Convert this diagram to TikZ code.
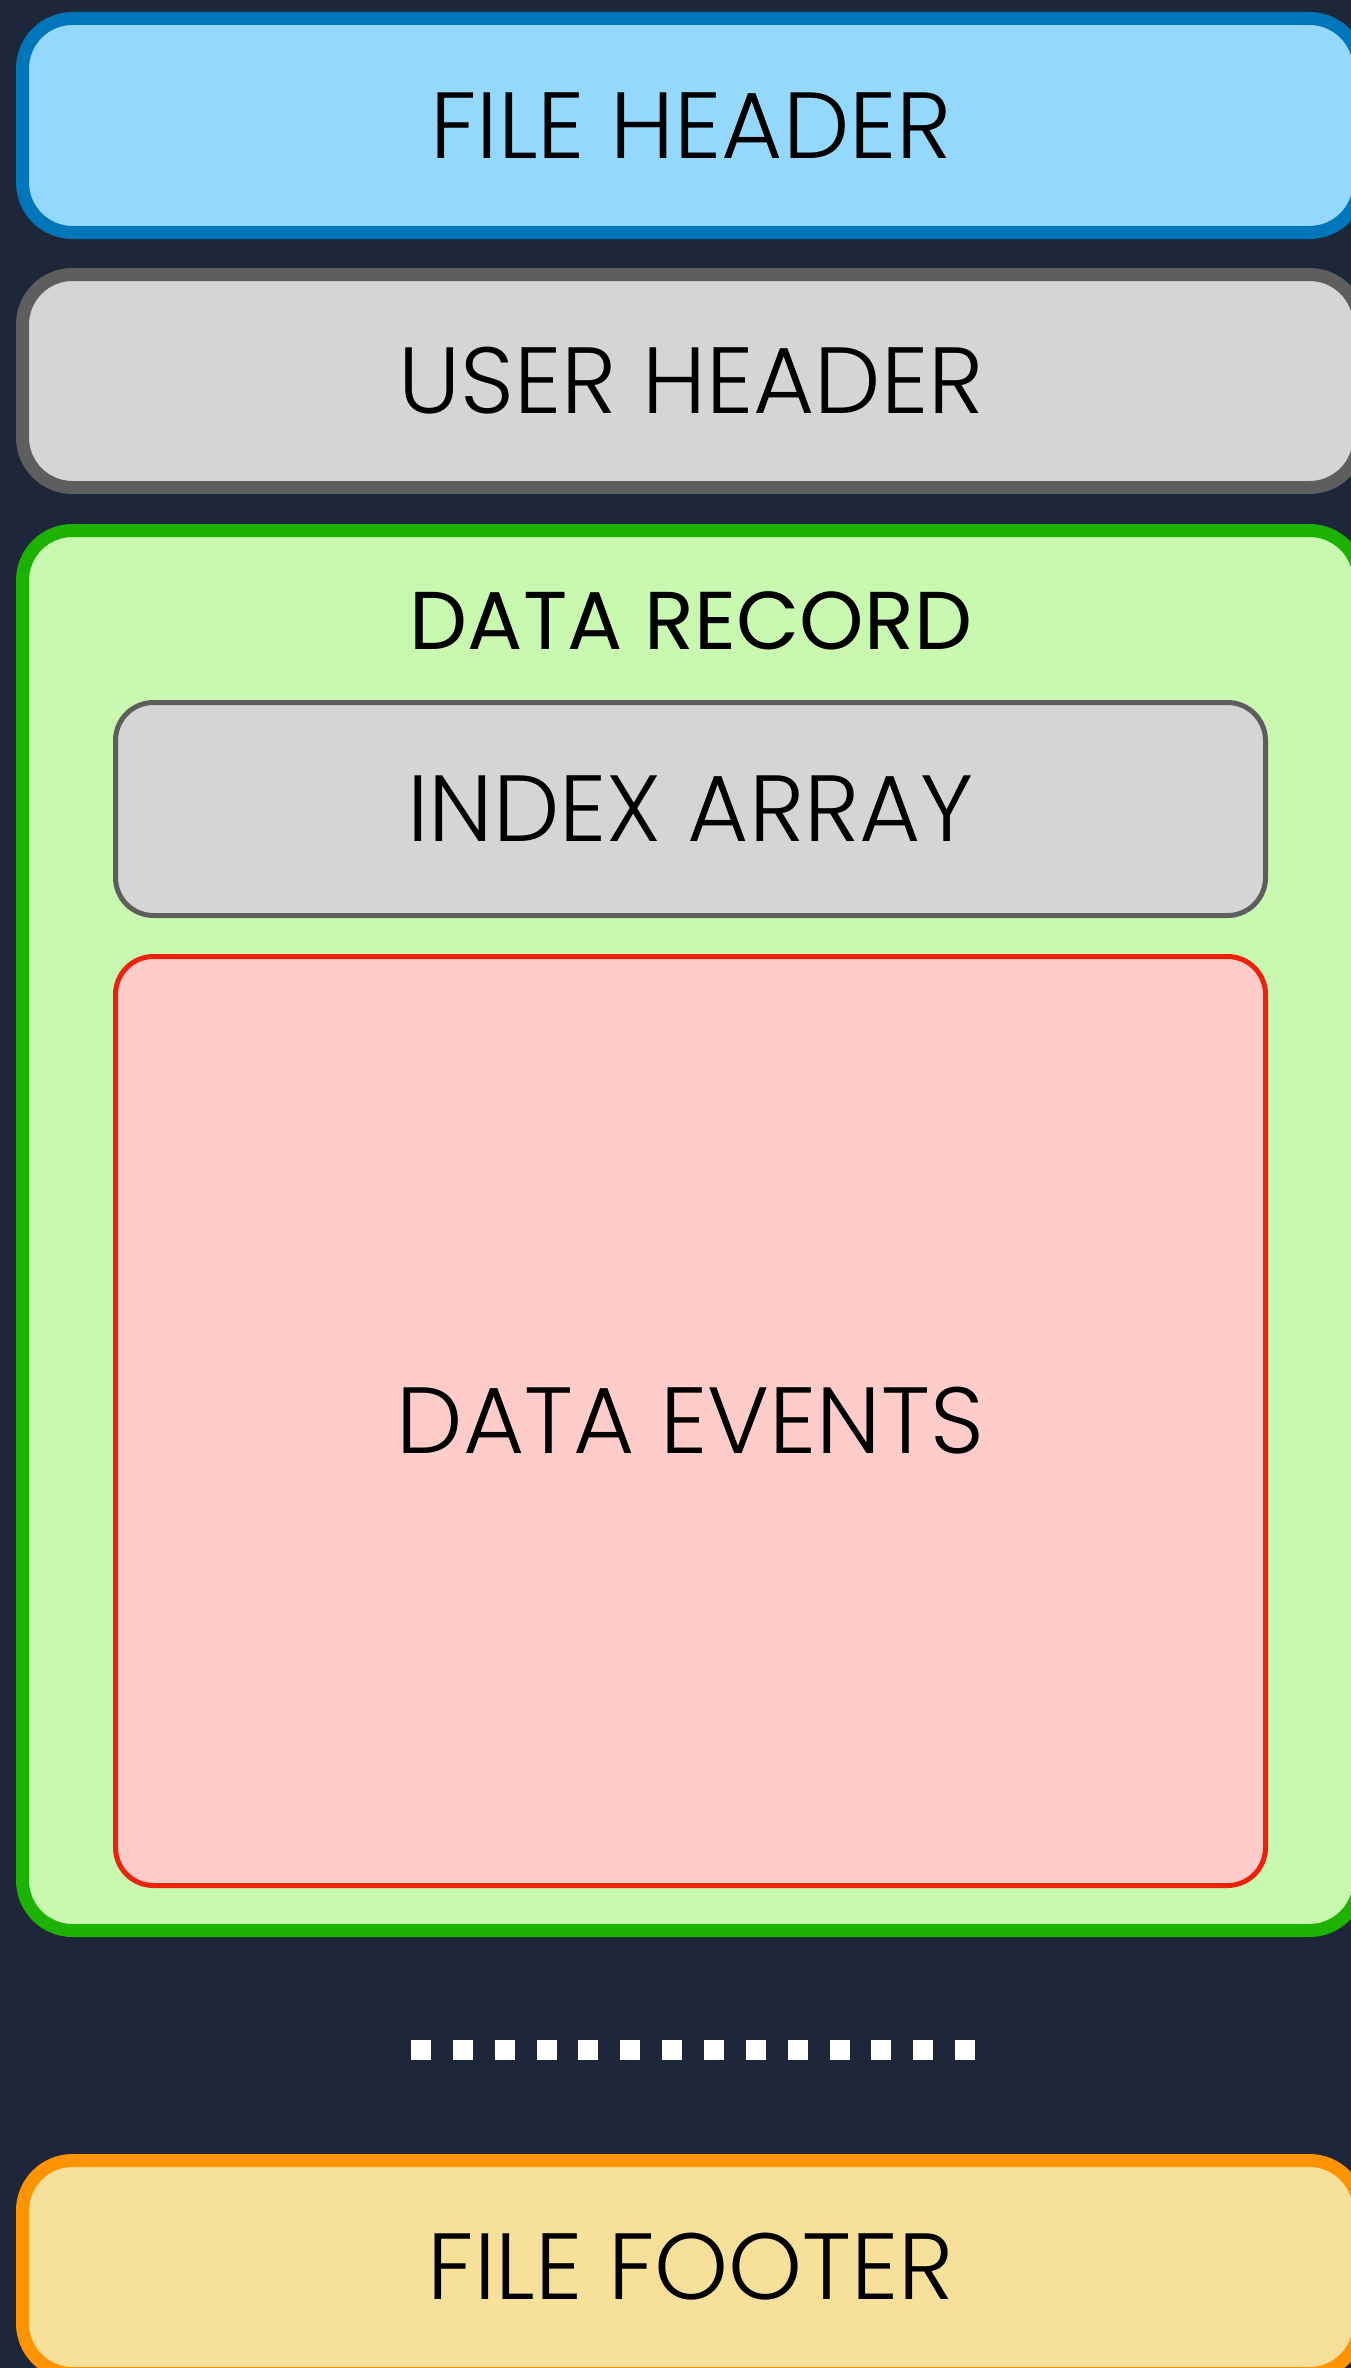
\documentclass[tikz,border=0pt]{standalone}
\usepackage{fontspec}
\setmainfont{Poppins}[UprightFont=* Light]
\newfontfamily\titlefont{Poppins}
\usepackage{tikz}

\definecolor{navy}{HTML}{1E273A}
\definecolor{hdrfill}{HTML}{95D8FD}
\definecolor{hdrline}{HTML}{0076BA}
\definecolor{usrfill}{HTML}{D5D5D5}
\definecolor{usrline}{HTML}{5E5E5E}
\definecolor{recfill}{HTML}{C9F9B0}
\definecolor{recline}{HTML}{1DB100}
\definecolor{evtfill}{HTML}{FFCDC9}
\definecolor{evtline}{HTML}{EE220C}
\definecolor{ftrfill}{HTML}{F7E09A}
\definecolor{ftrline}{HTML}{FF9300}

\begin{document}
\begin{tikzpicture}
  [x=1pt,y=-1pt,
   every node/.style={text=black,inner sep=0pt,font=\fontsize{94}{98}\selectfont},
   outerbox/.style={draw,rounded corners=50pt,line width=13pt,minimum width=1337pt},
   innerbox/.style={draw,rounded corners=38pt,line width=5pt,minimum width=1150pt}]
  \path[use as bounding box,clip] (0,0) rectangle (1351,2368);
  \fill[navy] (0,0) rectangle (1351,2368);

  \node[outerbox,fill=hdrfill,draw=hdrline,minimum height=214pt] (fhead) at (691,125.5) {FILE HEADER};
  \node[outerbox,fill=usrfill,draw=usrline,minimum height=213pt] (uhead) at (691,381) {USER HEADER};
  \node[outerbox,fill=recfill,draw=recline,minimum height=1400pt] (rec) at (691,1230.5) {};
  \node[font=\titlefont\fontsize{82}{86}\selectfont] (rectitle) at (691,621) {DATA RECORD};
  \node[innerbox,fill=usrfill,draw=usrline,minimum height=213pt] (idx) at (690.5,809) {INDEX ARRAY};
  \node[innerbox,fill=evtfill,draw=evtline,minimum height=929pt] (evts) at (690.5,1421) {DATA EVENTS};

  \foreach \i in {0,...,13}
    \fill[white] ({411+41.85*\i},2040) rectangle +(20,20);

  \node[outerbox,fill=ftrfill,draw=ftrline,minimum height=213pt] (ffoot) at (691,2267) {FILE FOOTER};

\end{tikzpicture}
\end{document}
